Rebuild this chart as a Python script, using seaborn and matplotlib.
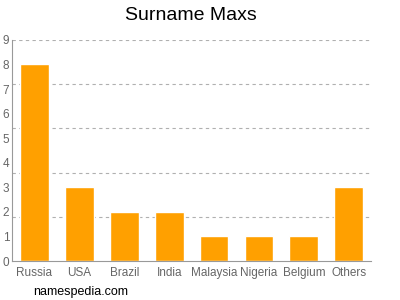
import matplotlib
matplotlib.use("Agg")
import matplotlib.pyplot as plt
import seaborn as sns
import numpy as np

countries = ["Russia", "USA", "Brazil", "India", "Malaysia", "Nigeria", "Belgium", "Others"]
counts = [8, 3, 2, 2, 1, 1, 1, 3]
y_ticks = [0, 1, 2, 3, 4, 5, 6, 7, 8, 9]
grid_levels = [1.8, 3.6, 5.4, 7.2, 9.0]

sns.set_style("white")
plt.rcParams['font.family'] = ['Liberation Sans', 'DejaVu Sans']

fig = plt.figure(figsize=(4, 3), dpi=100)
ax = fig.add_axes([0.03, 0.13, 0.898, 0.737])

sns.barplot(x=countries, y=counts, color="#ffa000", saturation=1, width=0.64, ax=ax)

for g in grid_levels:
    ax.axhline(g, color="#b0b0b0", linestyle=(0, (3, 3)), linewidth=0.8, zorder=0)

ax.set_ylim(0, 9)
ax.set_xlim(-0.5, 7.5)
ax.set_yticks(y_ticks)
ax.set_yticklabels([str(v) for v in y_ticks])
ax.tick_params(axis="y", labelsize=8.5, colors="#666666", length=0, pad=2)
ax.tick_params(axis="x", labelsize=8.5, colors="#666666", length=2, pad=2)
for lbl in ax.get_yticklabels() + ax.get_xticklabels():
    lbl.set_color("#666666")
ax.set_xlabel("")
ax.set_ylabel("")
for s in ["top", "right"]:
    ax.spines[s].set_visible(False)
ax.spines["left"].set_color("#999999")
ax.spines["bottom"].set_color("#999999")
ax.spines["left"].set_linewidth(0.8)
ax.spines["bottom"].set_linewidth(0.8)

fig.text(0.4775, 0.95, "Surname Maxs", ha="center", va="center", fontsize=14, color="#000000")
fig.text(0.082, 0.027, "namespedia.com", ha="left", va="center", fontsize=9, color="#000000")

fig.savefig("out.png", dpi=100)
